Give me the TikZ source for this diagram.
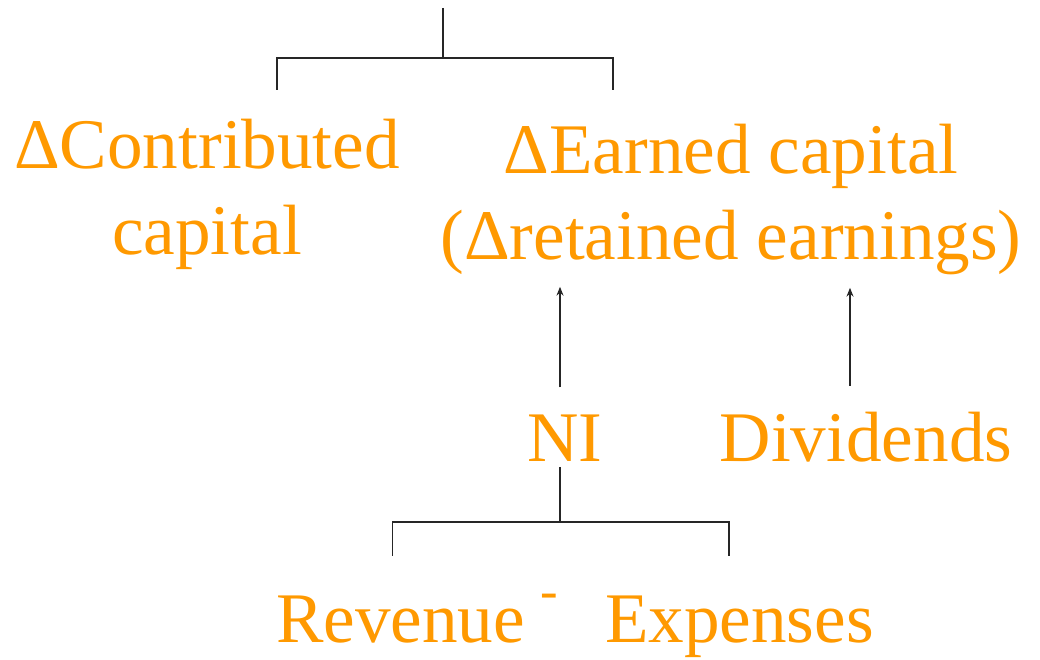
\documentclass[tikz,border=0pt]{standalone}
\usepackage{fontspec}
\setmainfont{Liberation Serif}
\usepackage{tikz}
\usetikzlibrary{positioning, calc, arrows.meta}
\usepackage{xcolor}
\definecolor{equity-orange}{RGB}{255,153,0}

\begin{document}
\begin{tikzpicture}[
    lbl/.style={text=equity-orange, font=\fontsize{40.5}{49.5}\selectfont, align=center, inner sep=0pt, outer sep=0pt},
    link/.style={black!85, line width=0.8pt},
    arr/.style={link, -{Stealth[length=5pt, width=4pt]}}
  ]
    \useasboundingbox (0,0) rectangle (20.8,13.2);

    % Equity components
    \node[lbl, anchor=base] (contrib) at (4.14,8.1) {ΔContributed\\capital};
    \node[lbl, anchor=base] (earned) at (14.62,8.0) {ΔEarned capital\\(Δretained earnings)};

    % Flows into earned capital
    \node[lbl, anchor=base] (ni) at (11.3,3.96) {NI};
    \node[lbl, anchor=base] (div) at (17.32,3.96) {Dividends};

    % Net income breakdown
    \node[lbl, anchor=base west] (rev) at (5.52,0.34) {Revenue};
    \node[lbl, font=\fontsize{30}{30}\selectfont] (minus) at (10.98,1.18) {-};
    \node[lbl, anchor=base west] (exp) at (12.1,0.34) {Expenses};

    % Top bracket
    \coordinate (root) at (8.86,13.04);
    \coordinate (split) at (8.86,12.04);
    \coordinate (cleft) at (5.54,11.4);
    \coordinate (cright) at (12.26,11.4);
    \draw[link] (root) -- (split);
    \draw[link] (split) -| (cleft);
    \draw[link] (split) -| (cright);

    % Arrows
    \draw[arr, shorten <=0.56cm, shorten >=0.23cm] ([xshift=-0.1cm]ni.north) -- ([xshift=-0.1cm]ni.north |- earned.south);
    \draw[arr, shorten <=0.54cm, shorten >=0.25cm] ([xshift=-0.32cm]div.north) -- ([xshift=-0.32cm]div.north |- earned.south);

    % Bottom bracket
    \coordinate (nisplit) at (11.2,2.76);
    \draw[link, shorten <=0.1cm] ([xshift=-0.1cm]ni.south) -- (nisplit);
    \draw[link, shorten >=0.8cm] (nisplit) -| ([xshift=-0.16cm]rev.north);
    \draw[link, shorten >=0.8cm] (nisplit) -| ([xshift=-0.21cm]exp.north);
\end{tikzpicture}
\end{document}
